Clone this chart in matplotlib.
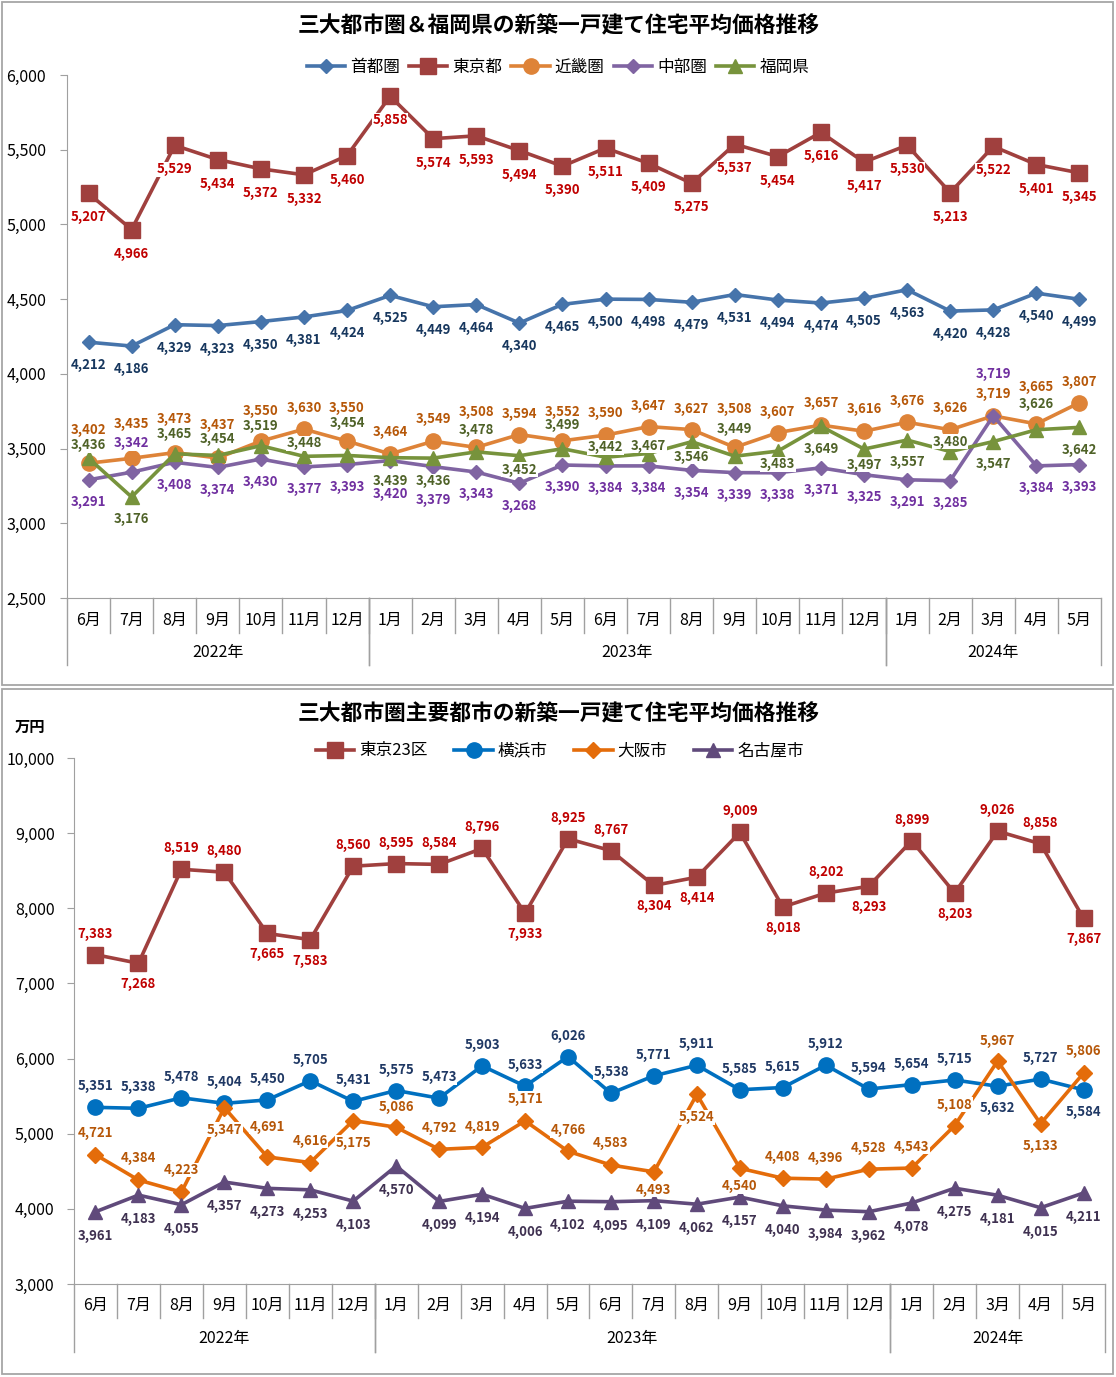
import matplotlib.pyplot as plt
from matplotlib.patches import Rectangle

plt.rcParams['font.family'] = ['Noto Sans CJK JP', 'DejaVu Sans']

months = ['6月', '7月', '8月', '9月', '10月', '11月', '12月',
          '1月', '2月', '3月', '4月', '5月', '6月', '7月', '8月', '9月', '10月', '11月', '12月',
          '1月', '2月', '3月', '4月', '5月']
years = ['2022年', '2023年', '2024年']
year_len = [7, 12, 5]

# 上段: 三大都市圏＆福岡県
shuto = [4212, 4186, 4329, 4323, 4350, 4381, 4424, 4525, 4449, 4464, 4340, 4465,
         4500, 4498, 4479, 4531, 4494, 4474, 4505, 4563, 4420, 4428, 4540, 4499]
tokyo = [5207, 4966, 5529, 5434, 5372, 5332, 5460, 5858, 5574, 5593, 5494, 5390,
         5511, 5409, 5275, 5537, 5454, 5616, 5417, 5530, 5213, 5522, 5401, 5345]
kinki = [3402, 3435, 3473, 3437, 3550, 3630, 3550, 3464, 3549, 3508, 3594, 3552,
         3590, 3647, 3627, 3508, 3607, 3657, 3616, 3676, 3626, 3719, 3665, 3807]
chubu = [3291, 3342, 3408, 3374, 3430, 3377, 3393, 3420, 3379, 3343, 3268, 3390,
         3384, 3384, 3354, 3339, 3338, 3371, 3325, 3291, 3285, 3719, 3384, 3393]
fukuoka = [3436, 3176, 3465, 3454, 3519, 3448, 3454, 3439, 3436, 3478, 3452, 3499,
           3442, 3467, 3546, 3449, 3483, 3649, 3497, 3557, 3480, 3547, 3626, 3642]

# 下段: 主要都市
tokyo23 = [7383, 7268, 8519, 8480, 7665, 7583, 8560, 8595, 8584, 8796, 7933, 8925,
           8767, 8304, 8414, 9009, 8018, 8202, 8293, 8899, 8203, 9026, 8858, 7867]
yokohama = [5351, 5338, 5478, 5404, 5450, 5705, 5431, 5575, 5473, 5903, 5633, 6026,
            5538, 5771, 5911, 5585, 5615, 5912, 5594, 5654, 5715, 5632, 5727, 5584]
osaka = [4721, 4384, 4223, 5347, 4691, 4616, 5175, 5086, 4792, 4819, 5171, 4766,
         4583, 4493, 5524, 4540, 4408, 4396, 4528, 4543, 5108, 5967, 5133, 5806]
nagoya = [3961, 4183, 4055, 4357, 4273, 4253, 4103, 4570, 4099, 4194, 4006, 4102,
          4095, 4109, 4062, 4157, 4040, 3984, 3962, 4078, 4275, 4181, 4015, 4211]

# label offsets in pixels (+ above / - below)
kinki_off = [33, 34, 34, 33, 30, 21, 33, 22, 22, 35, 21, 29, 22, 21, 21, 38, 21, 22, 22, 21, 22, 22, 37, 21]
chubu_off = [-22, 29, -23, -23, -23, -22, -22, -33, -33, -22, -23, -22,
             -22, -22, -23, -22, -22, -22, -22, -22, -22, 42, -22, -22]
fuk_off = [13, -22, 20, 16, 20, 13, 32, -23, -23, 22, -14, 24, 10, 8, -15, 27, -13, -23, -16, -22, 10, -22, 26, -23]
t23_sign = [1, -1, 1, 1, -1, -1, 1, 1, 1, 1, -1, 1, 1, -1, -1, 1, -1, 1, -1, 1, -1, 1, 1, -1]
yoko_off = [21] * 24
yoko_off[21] = -22
yoko_off[23] = -22
osaka_off = [22, 22, 22, -22, 30, 22, -22, 20, 21, 20, 22, 21, 22, -18, -23, -18, 21, 21, 21, 21, 21, 20, -22, 22]

W, H = 1116, 1377
fig = plt.figure(figsize=(W / 100, H / 100), dpi=100)

# outer frames
for y0, y1 in [(2, 685), (689, 1374)]:
    fig.patches.append(Rectangle((2 / W, 1 - y1 / H), 1111 / W, (y1 - y0) / H,
                                 transform=fig.transFigure, fill=False,
                                 edgecolor='#A6A6A6', lw=1.3))


def make_ax(left, right, top, bottom, pad):
    ax = fig.add_axes([left / W, 1 - bottom / H, (right - left) / W, (bottom - top) / H])
    for s in ['top', 'right']:
        ax.spines[s].set_visible(False)
    for s in ['left', 'bottom']:
        ax.spines[s].set_color('#A0A0A0')
    ax.tick_params(axis='y', colors='#A0A0A0', labelcolor='black', labelsize=11.5,
                   length=5, pad=pad)
    ax.set_xticks([])
    ax.set_xlim(-0.5, 23.5)
    return ax


def cat_axis(ax, h_px, m_sep, y_sep, m_y, y_y):
    tr = ax.get_xaxis_transform()
    for i, m in enumerate(months):
        ax.text(i, -m_y / h_px, m, transform=tr, ha='center', va='center', fontsize=11.5)
    for i in range(1, 24):
        ax.plot([i - 0.5, i - 0.5], [0, -m_sep / h_px], transform=tr, color='#A0A0A0',
                lw=1, clip_on=False)
    start = 0
    for yl, n in zip(years, year_len):
        ax.text(start + n / 2 - 0.5, -y_y / h_px, yl, transform=tr, ha='center',
                va='center', fontsize=11.5)
        for xb in [start - 0.5, start + n - 0.5]:
            ax.plot([xb, xb], [0, -y_sep / h_px], transform=tr, color='#A0A0A0',
                    lw=1, clip_on=False)
        start += n


def labels(ax, vals, offs, color, z=10):
    for i, v in enumerate(vals):
        ax.annotate(f'{v:,}', (i, v), xytext=(0, offs[i]), textcoords='offset pixels',
                    ha='center', va='center', fontsize=9.5, fontweight='bold', color=color,
                    zorder=z, bbox=dict(facecolor='white', edgecolor='none', pad=0.3))


x = list(range(24))

# ---------- top chart ----------
ax1 = make_ax(67, 1101, 75, 598, 10)
ax1.set_ylim(2500, 6000)
ax1.set_yticks(range(2500, 6001, 500))
ax1.set_yticklabels([f'{v:,}' for v in range(2500, 6001, 500)])

ax1.plot(x, shuto, color='#4674AB', lw=2.6, marker='D', ms=7, label='首都圏')
ax1.plot(x, tokyo, color='#A0403E', lw=2.6, marker='s', ms=11, label='東京都')
ax1.plot(x, kinki, color='#DE8338', lw=2.6, marker='o', ms=11, label='近畿圏')
ax1.plot(x, chubu, color='#8064A2', lw=2.6, marker='D', ms=7, label='中部圏')
ax1.plot(x, fukuoka, color='#77933C', lw=2.6, marker='^', ms=10, label='福岡県')

labels(ax1, shuto, [-23] * 24, '#17375E')
labels(ax1, tokyo, [-24] * 24, '#C00000')
labels(ax1, fukuoka, fuk_off, '#4F6228', 10)
labels(ax1, kinki, kinki_off, '#B65708', 11)
labels(ax1, chubu, chubu_off, '#7030A0', 12)

cat_axis(ax1, 523, 35, 67, 22, 54)
fig.text(559 / W, 1 - 26 / H, '三大都市圏＆福岡県の新築一戸建て住宅平均価格推移',
         ha='center', va='center', fontsize=15.7, fontweight='bold')
ax1.legend(loc='center', bbox_to_anchor=(558 / W, 1 - 67 / H), bbox_transform=fig.transFigure,
           ncol=5, frameon=False, fontsize=12, handlelength=2.3, handletextpad=0.3,
           columnspacing=0.55, numpoints=1)

# ---------- bottom chart ----------
ax2 = make_ax(74, 1105, 758, 1284, 9)
ax2.set_ylim(3000, 10000)
ax2.set_yticks(range(3000, 10001, 1000))
ax2.set_yticklabels([f'{v:,}' for v in range(3000, 10001, 1000)])

ax2.plot(x, tokyo23, color='#A0403E', lw=2.6, marker='s', ms=11, label='東京23区')
ax2.plot(x, yokohama, color='#0070C0', lw=2.6, marker='o', ms=11, label='横浜市')
ax2.plot(x, osaka, color='#E46C0A', lw=2.6, marker='D', ms=8, label='大阪市')
ax2.plot(x, nagoya, color='#604A7B', lw=2.6, marker='^', ms=10, label='名古屋市')

labels(ax2, tokyo23, [21 * s for s in t23_sign], '#C00000')
labels(ax2, yokohama, yoko_off, '#1F3864')
labels(ax2, osaka, osaka_off, '#B65708')
labels(ax2, nagoya, [-24] * 24, '#3F3151')

cat_axis(ax2, 526, 34, 68, 21, 54)
fig.text(559 / W, 1 - 714 / H, '三大都市圏主要都市の新築一戸建て住宅平均価格推移',
         ha='center', va='center', fontsize=15.7, fontweight='bold')
fig.text(30 / W, 1 - 727 / H, '万円', ha='center', va='center', fontsize=11, fontweight='bold')
ax2.legend(loc='center', bbox_to_anchor=(560 / W, 1 - 751 / H), bbox_transform=fig.transFigure,
           ncol=4, frameon=False, fontsize=12, handlelength=2.3, handletextpad=0.3,
           columnspacing=1.6, numpoints=1)

fig.savefig('out.png', dpi=100)
